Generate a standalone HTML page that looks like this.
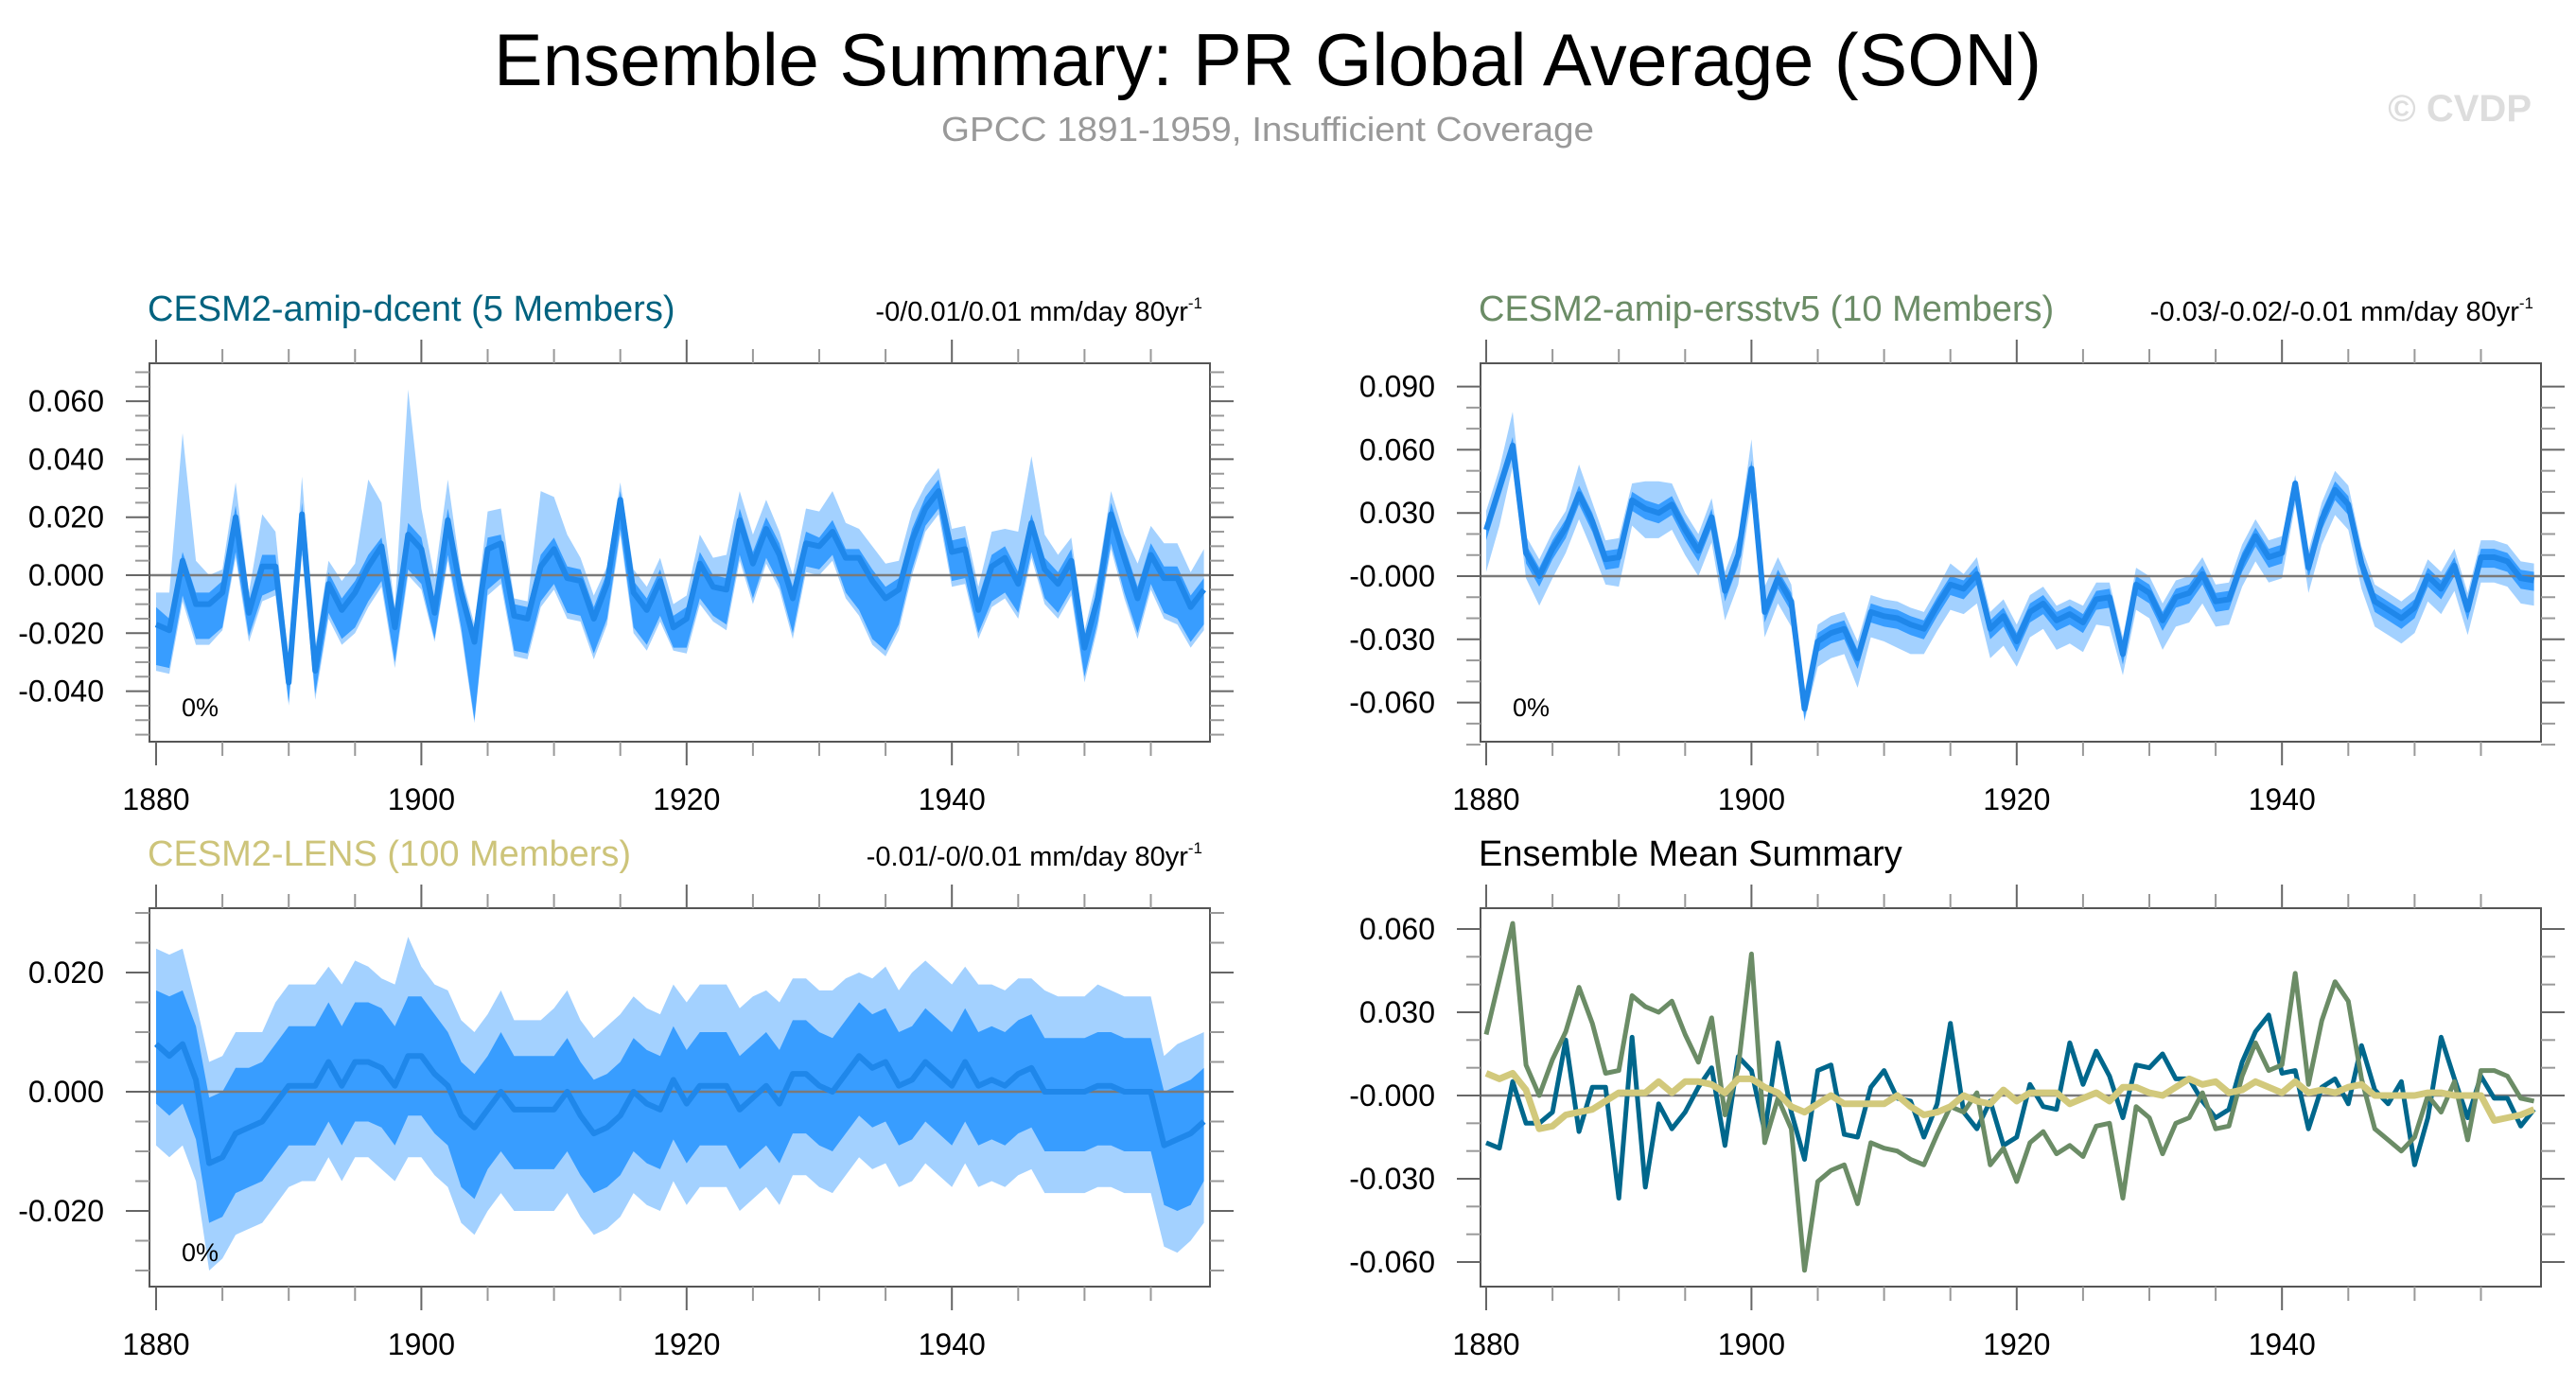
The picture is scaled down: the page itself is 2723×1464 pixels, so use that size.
<!DOCTYPE html>
<html><head><meta charset="utf-8"><style>
html,body{margin:0;padding:0;background:#fff}
svg{display:block}
text{font-family:"Liberation Sans",Arial,sans-serif}
</style></head><body>
<svg id="chart" width="2723" height="1464" viewBox="0 0 2723 1464" xmlns="http://www.w3.org/2000/svg">
<text x="1340" y="90" font-size="78" text-anchor="middle" textLength="1636" lengthAdjust="spacingAndGlyphs">Ensemble Summary: PR Global Average (SON)</text>
<text x="1340" y="149" font-size="36" fill="#999" text-anchor="middle" textLength="690" lengthAdjust="spacingAndGlyphs">GPCC 1891-1959, Insufficient Coverage</text>
<text x="2676" y="128" font-size="40" font-weight="bold" fill="#ddd" text-anchor="end">© CVDP</text>
<g id="panels"></g>
</svg>
<script>
// years 1880..1959
const years = Array.from({length:80},(_,i)=>1880+i);
const xTickLabels = ["1880","1900","1920","1940"];

// ensemble means (mm/day)
const dcentMean = [-0.017,-0.019,0.005,-0.010,-0.010,-0.006,0.020,-0.013,0.003,0.003,-0.037,0.021,-0.033,-0.003,-0.012,-0.006,0.003,0.010,-0.018,0.014,0.009,-0.013,0.019,-0.006,-0.023,0.009,0.011,-0.014,-0.015,0.003,0.009,-0.001,-0.002,-0.015,-0.003,0.026,-0.006,-0.012,-0.002,-0.018,-0.015,0.004,-0.004,-0.005,0.019,0.004,0.016,0.007,-0.008,0.011,0.010,0.015,0.006,0.006,-0.002,-0.008,-0.005,0.012,0.023,0.029,0.008,0.009,-0.012,0.003,0.006,-0.003,0.018,0.002,-0.003,0.005,-0.025,-0.008,0.021,0.006,-0.008,0.007,-0.001,-0.001,-0.011,-0.005];
const ersstMean = [0.022,0.042,0.062,0.011,0.000,0.013,0.023,0.039,0.026,0.008,0.009,0.036,0.032,0.030,0.034,0.022,0.012,0.028,-0.007,0.010,0.051,-0.017,-0.001,-0.012,-0.063,-0.031,-0.027,-0.025,-0.039,-0.017,-0.019,-0.020,-0.023,-0.025,-0.014,-0.004,-0.006,0.001,-0.025,-0.019,-0.031,-0.017,-0.013,-0.021,-0.018,-0.022,-0.011,-0.010,-0.037,-0.004,-0.008,-0.021,-0.010,-0.008,0.001,-0.012,-0.011,0.007,0.019,0.009,0.011,0.044,0.004,0.027,0.041,0.034,0.006,-0.012,-0.016,-0.020,-0.015,0.000,-0.006,0.005,-0.016,0.009,0.009,0.007,-0.001,-0.002];
const lensMean = [0.008,0.006,0.008,0.002,-0.012,-0.011,-0.007,-0.006,-0.005,-0.002,0.001,0.001,0.001,0.005,0.001,0.005,0.005,0.004,0.001,0.006,0.006,0.003,0.001,-0.004,-0.006,-0.003,0.000,-0.003,-0.003,-0.003,-0.003,0.000,-0.004,-0.007,-0.006,-0.004,0.000,-0.002,-0.003,0.002,-0.002,0.001,0.001,0.001,-0.003,-0.001,0.001,-0.002,0.003,0.003,0.001,0.000,0.003,0.006,0.004,0.005,0.001,0.002,0.005,0.003,0.001,0.005,0.001,0.002,0.001,0.003,0.004,0.000,0.000,0.000,0.000,0.001,0.001,0.000,0.000,0.000,-0.009,-0.008,-0.007,-0.005];

// band offsets from mean (units of 0.001 mm/day): light upper, dark upper, dark lower, light lower
const dcentLightHi = [11,13,44,15,10,8,12,7,18,12,7,13,8,8,10,10,30,15,7,50,14,12,14,6,6,13,12,6,6,26,18,15,8,8,6,6,8,8,8,8,8,10,10,12,10,10,10,8,8,12,12,14,12,10,12,12,10,10,8,8,8,8,8,12,10,18,23,12,10,8,6,8,8,8,12,10,12,12,12,14];
const dcentDarkHi = [6,4,3,4,4,4,4,4,4,4,4,4,4,4,4,4,4,3,4,4,4,4,4,4,4,4,3,4,4,4,4,4,4,4,4,3,4,4,4,4,4,4,4,4,4,4,4,4,4,4,3,4,3,3,4,4,4,4,4,4,4,4,4,4,4,4,3,4,4,4,4,4,4,4,4,4,4,4,4,4];
const dcentDarkLo = [14,13,12,12,12,12,12,8,10,8,7,12,8,10,10,12,12,12,12,12,12,9,12,12,27,14,12,12,12,12,12,12,12,12,12,10,12,12,12,7,10,12,10,12,12,12,10,10,12,8,8,8,12,18,20,18,12,10,6,6,10,10,8,12,12,10,10,10,10,10,10,8,10,12,12,10,12,14,12,12];
const dcentLightLo = [16,15,14,14,14,13,14,10,12,10,8,14,10,12,12,14,14,14,14,14,14,10,14,14,28,16,14,14,14,14,14,14,14,14,14,12,14,14,14,8,12,14,12,14,14,14,12,12,14,10,10,10,14,20,22,20,14,12,8,8,12,12,10,14,14,12,12,12,12,12,12,10,12,14,14,12,14,16,14,14];
const ersstLightHi = [9,9,16,8,8,8,8,14,9,9,9,8,13,15,10,8,8,9,9,9,14,12,10,8,8,8,8,8,8,8,8,8,8,8,8,10,7,8,8,8,8,8,8,7,7,8,8,7,8,8,8,8,8,8,8,8,8,8,8,8,8,4,8,8,9,9,8,8,8,8,8,8,8,8,8,8,8,8,8,8];
const ersstDarkHi = [4,4,4,4,4,4,4,4,4,4,4,4,4,4,4,4,4,4,4,4,4,4,4,4,4,4,4,4,4,4,4,4,4,4,4,4,4,4,4,4,4,4,4,4,4,4,4,4,4,4,4,4,4,4,4,4,4,4,4,4,4,2,4,4,4,4,4,4,4,4,4,4,4,4,4,4,4,4,4,4];
const ersstDarkLo = [5,5,5,5,5,5,5,5,5,5,5,5,5,5,5,5,5,5,5,5,5,5,5,5,5,5,5,5,5,5,5,5,5,5,5,5,5,5,5,5,5,5,5,5,5,5,5,5,5,5,5,5,5,5,5,5,5,5,5,5,5,4,5,5,5,5,5,5,5,5,5,5,5,5,5,5,5,5,5,5];
const ersstLightLo = [20,18,10,12,14,14,12,12,14,12,14,12,14,12,12,12,12,12,14,14,14,12,12,12,6,12,12,12,14,12,12,14,14,12,12,12,12,14,14,14,12,12,12,14,14,14,12,14,10,12,12,14,14,14,14,12,12,12,12,12,12,10,12,12,12,12,12,12,12,12,12,12,12,12,12,12,12,12,12,12];
const lensLightHi = [16,17,16,13,17,17,17,16,15,17,17,17,17,16,17,17,16,15,17,20,15,15,16,16,16,16,17,15,15,15,17,17,16,16,17,17,16,16,16,16,17,17,17,17,17,17,16,17,16,16,16,17,16,14,15,16,16,18,17,17,17,16,17,16,16,16,15,17,16,16,16,17,16,16,16,16,15,16,16,15];
const lensDarkHi = [9,10,9,9,11,11,11,10,10,10,10,10,10,10,10,10,10,10,10,10,10,10,9,9,9,9,10,9,9,9,9,9,9,9,9,9,9,9,9,9,9,9,9,9,9,9,9,9,9,9,9,9,9,9,9,9,9,9,9,9,9,9,9,9,9,9,9,9,9,9,9,9,9,9,9,9,9,9,9,9];
const lensDarkLo = [10,10,10,10,10,10,10,10,10,10,10,10,10,10,10,10,10,10,10,10,10,10,10,12,12,10,10,10,10,10,10,10,10,10,10,10,10,10,10,10,10,10,10,10,10,10,10,10,10,10,10,10,10,10,10,10,10,10,10,10,10,10,10,10,10,10,10,10,10,10,10,10,10,10,10,10,10,12,12,10];
const lensLightLo = [17,17,17,17,18,17,17,17,17,17,17,16,16,16,16,16,16,17,16,17,17,17,17,18,18,17,17,17,17,17,17,17,17,17,17,17,17,17,17,17,17,17,17,17,17,17,17,17,17,17,17,17,17,17,17,17,17,17,17,17,17,17,17,17,17,17,17,17,17,17,17,17,17,17,17,17,17,19,18,17];

const yTicksP1 = ["0.060","0.040","0.020","0.000","-0.020","-0.040"];
const yTicksP2 = ["0.090","0.060","0.030","-0.000","-0.030","-0.060"];
const yTicksP3 = ["0.020","0.000","-0.020"];
const yTicksP4 = ["0.060","0.030","-0.000","-0.030","-0.060"];

const NS="http://www.w3.org/2000/svg";
const root=document.getElementById('panels');
function mk(tag,attrs,parent){const e=document.createElementNS(NS,tag);for(const k in attrs)e.setAttribute(k,attrs[k]);(parent||root).appendChild(e);return e;}

function panel(cfg){
  const g=mk('g',{});
  
  
  const L=cfg.x0,R=cfg.x1,T=cfg.y0,B=cfg.y1;
  const xs=y=>cfg.xa+(y-1880)*cfg.xpy;
  const ys=v=>cfg.yzero-(v/cfg.yspan)*cfg.ypx;
  const band=(hi,lo,color,nm)=>{
    let d='';
    years.forEach((yr,i)=>{d+=(i?'L':'M')+xs(yr).toFixed(1)+','+ys(hi[i]).toFixed(1);});
    for(let i=years.length-1;i>=0;i--){d+='L'+xs(years[i]).toFixed(1)+','+ys(lo[i]).toFixed(1);}
    const p=mk('path',{d:d+'Z',fill:color},g);
    
    
  };
  const line=(vals,color,w,nm)=>{
    const pts=years.map((yr,i)=>xs(yr).toFixed(1)+','+ys(vals[i]).toFixed(1)).join(' ');
    const p=mk('polyline',{points:pts,fill:'none',stroke:color,'stroke-width':w,'stroke-linejoin':'round'},g);
    
    
  };
  if(cfg.mean){
    const m=cfg.mean;
    band(m.map((v,i)=>v+cfg.lhi[i]/1000),m.map((v,i)=>v-cfg.llo[i]/1000),'#a3d1ff','light-band');
    band(m.map((v,i)=>v+cfg.dhi[i]/1000),m.map((v,i)=>v-cfg.dlo[i]/1000),'#389dff','dark-band');
  }
  const z=mk('line',{x1:L,x2:R,y1:ys(0),y2:ys(0),stroke:'#7a7a7a','stroke-width':2.5},g);
  
  
  if(cfg.mean) line(cfg.mean,'#1f87ea',6,'ensemble-mean-line');
  if(cfg.lines) cfg.lines.forEach(l=>line(l.v,l.c,l.w,l.n));
  const f=mk('rect',{x:L,y:T,width:R-L,height:B-T,fill:'none',stroke:'#555','stroke-width':2},g);
  
  
  for(let yr=1880;yr<=1960;yr+=5){
    const x=xs(yr); if(x>R+1) continue;
    const maj=yr%20===0, len=maj?25:15;
    mk('line',{x1:x,x2:x,y1:T,y2:T-len,stroke:maj?'#666':'#999','stroke-width':2},g);
    mk('line',{x1:x,x2:x,y1:B,y2:B+len,stroke:maj?'#666':'#999','stroke-width':2},g);
  }
  xTickLabels.forEach(s=>{
    const t=mk('text',{x:xs(+s),y:B+72,'font-size':32,'text-anchor':'middle'},g);
    t.textContent=s;
    
    
  });
  const step=cfg.minor;
  const lo=Math.ceil(cfg.ymin/step-1e-6), hi=Math.floor(cfg.ymax/step+1e-6);
  for(let k=lo;k<=hi;k++){
    const v=k*step, y=ys(v);
    const maj=Math.abs(Math.round(v/cfg.major)*cfg.major-v)<1e-9, len=maj?25:15;
    mk('line',{x1:L,x2:L-len,y1:y,y2:y,stroke:maj?'#666':'#999','stroke-width':2},g);
    mk('line',{x1:R,x2:R+len,y1:y,y2:y,stroke:maj?'#666':'#999','stroke-width':2},g);
  }
  cfg.yticks.forEach(s=>{
    const t=mk('text',{x:L-48,y:ys(parseFloat(s))+11,'font-size':32,'text-anchor':'end'},g);
    t.textContent=s;
    
    
  });
  const tt=mk('text',{x:cfg.tx,y:T-45,'font-size':38,fill:cfg.tcolor},g);
  tt.textContent=cfg.title;
  
  
  if(cfg.stat){
    const st=mk('text',{x:R-8,y:T-45,'font-size':29,'text-anchor':'end'},g);
    st.textContent=cfg.stat;
    const sup=mk('tspan',{'font-size':17,dy:-13},st);
    sup.textContent='-1';
    
    
    const pc=mk('text',{x:L+34,y:B-27,'font-size':27},g);
    pc.textContent='0%';
    
    
  }
}

panel({name:'panel-cesm2-amip-dcent',x0:158,x1:1279,y0:384,y1:784,xa:165,xpy:14.02,yzero:608,yspan:0.02,ypx:61.3,ymin:-0.0574,ymax:0.073,minor:0.005,major:0.02,
  yticks:yTicksP1,mean:dcentMean,lhi:dcentLightHi,dhi:dcentDarkHi,dlo:dcentDarkLo,llo:dcentLightLo,
  title:'CESM2-amip-dcent (5 Members)',tcolor:'#00627f',tx:156,stat:'-0/0.01/0.01 mm/day 80yr'});
panel({name:'panel-cesm2-amip-ersstv5',x0:1565,x1:2686,y0:384,y1:784,xa:1571,xpy:14.02,yzero:609,yspan:0.03,ypx:66.8,ymin:-0.088,ymax:0.0913,minor:0.01,major:0.03,
  yticks:yTicksP2,mean:ersstMean,lhi:ersstLightHi,dhi:ersstDarkHi,dlo:ersstDarkLo,llo:ersstLightLo,
  title:'CESM2-amip-ersstv5 (10 Members)',tcolor:'#6b8c66',tx:1563,stat:'-0.03/-0.02/-0.01 mm/day 80yr'});
panel({name:'panel-cesm2-lens',x0:158,x1:1279,y0:960,y1:1360,xa:165,xpy:14.02,yzero:1154,yspan:0.02,ypx:126,ymin:-0.0327,ymax:0.0308,minor:0.005,major:0.02,
  yticks:yTicksP3,mean:lensMean,lhi:lensLightHi,dhi:lensDarkHi,dlo:lensDarkLo,llo:lensLightLo,
  title:'CESM2-LENS (100 Members)',tcolor:'#cdc47a',tx:156,stat:'-0.01/-0/0.01 mm/day 80yr'});
panel({name:'panel-ensemble-mean-summary',x0:1565,x1:2686,y0:960,y1:1360,xa:1571,xpy:14.02,yzero:1158,yspan:0.03,ypx:88,ymin:-0.0652,ymax:0.0637,minor:0.01,major:0.03,
  yticks:yTicksP4,
  lines:[{v:dcentMean,c:'#00678c',w:5,n:'dcent-mean-line'},{v:ersstMean,c:'#6b8c66',w:5,n:'ersstv5-mean-line'},{v:lensMean,c:'#d2c97c',w:7,n:'lens-mean-line'}],
  title:'Ensemble Mean Summary',tcolor:'#000',tx:1563});
</script>
</body></html>
